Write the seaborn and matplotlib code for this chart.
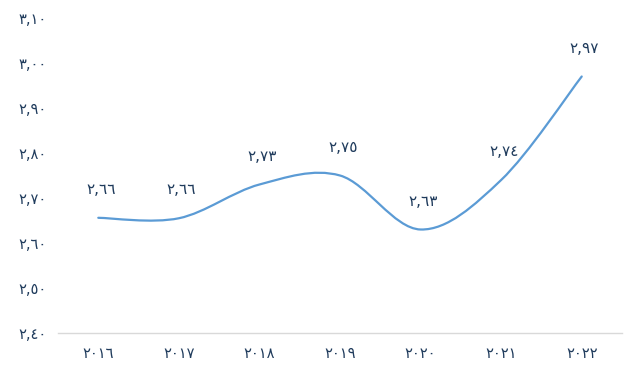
import numpy as np
import matplotlib
matplotlib.use("Agg")
import matplotlib.pyplot as plt
import seaborn as sns
from matplotlib.path import Path
from matplotlib.patches import PathPatch

# data
years = [2016, 2017, 2018, 2019, 2020, 2021, 2022]
values = [2.656, 2.655, 2.73, 2.75, 2.63, 2.74, 2.97]
labels = ["2,66", "2,66", "2,73", "2,75", "2,63", "2,74", "2,97"]
yticks = [2.40, 2.50, 2.60, 2.70, 2.80, 2.90, 3.00, 3.10]

AR = str.maketrans("0123456789", "٠١٢٣٤٥٦٧٨٩")
def ar(s):
    return str(s).translate(AR)

TEXT = "#1f3b5c"
LINE = "#5b9bd5"

sns.set_theme(style="white")
plt.rcParams['font.family'] = ['DejaVu Sans']

fig = plt.figure(figsize=(6.33, 3.85), dpi=100)
ax = fig.add_axes([58 / 633, 52 / 385, 564 / 633, 315 / 385])

# smooth line (cubic bezier, excel-like)
xs = np.arange(len(years), dtype=float)
ys = np.array(values)
verts = [(xs[0], ys[0])]
codes = [Path.MOVETO]
for i in range(len(xs) - 1):
    p0 = np.array([xs[max(i - 1, 0)], ys[max(i - 1, 0)]])
    p1 = np.array([xs[i], ys[i]])
    p2 = np.array([xs[i + 1], ys[i + 1]])
    p3 = np.array([xs[min(i + 2, len(xs) - 1)], ys[min(i + 2, len(xs) - 1)]])
    c1 = p1 + (p2 - p0) / 6
    c2 = p2 - (p3 - p1) / 6
    verts += [tuple(c1), tuple(c2), tuple(p2)]
    codes += [Path.CURVE4] * 3
ax.add_patch(PathPatch(Path(verts, codes), fill=False, edgecolor=LINE,
                       linewidth=1.6, capstyle='round'))

# data labels
for x, y, lab in zip(xs, ys, labels):
    ax.annotate(ar(lab), (x, y), xytext=(2, 15), textcoords="offset points",
                ha="center", va="bottom", fontsize=11, color=TEXT)

ax.set_xlim(-0.5, len(years) - 0.5)
ax.set_ylim(2.40, 3.10)
ax.set_xticks(xs)
ax.set_xticklabels([ar(y) for y in years], fontsize=10.5, color=TEXT)
ax.set_yticks(yticks)
ax.set_yticklabels([ar(f"{t:.2f}".replace(".", ",")) for t in yticks],
                   fontsize=10.5, color=TEXT)
ax.tick_params(axis='both', length=0)
ax.tick_params(axis='x', pad=9)
ax.tick_params(axis='y', pad=8)

sns.despine(ax=ax, left=True)
ax.spines['bottom'].set_color("#d9d9d9")
ax.spines['bottom'].set_linewidth(1)

fig.savefig("out.png", dpi=100)
